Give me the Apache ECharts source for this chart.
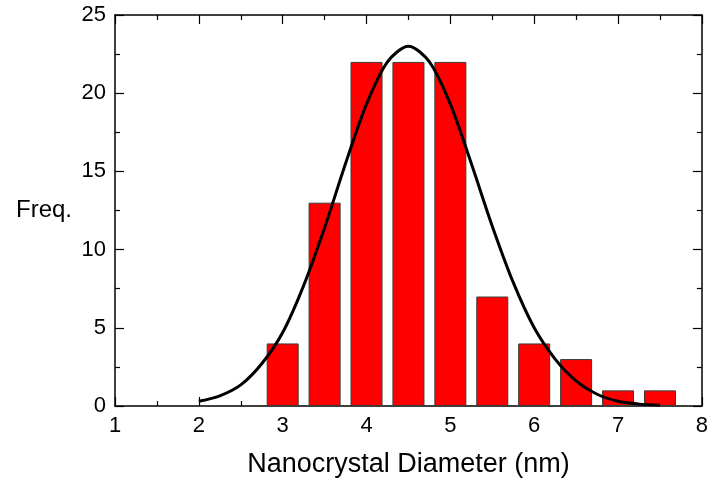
<!DOCTYPE html>
<html>
<head>
<meta charset="utf-8">
<script src="https://cdn.jsdelivr.net/npm/echarts@6/dist/echarts.min.js"></script>
<style>
html,body{margin:0;padding:0;background:#fff;}
#chart{width:711px;height:484px;}
</style>
</head>
<body>
<div id="chart"></div>
<script>
// Histogram bins (nm) and frequencies
const binCenters = [3, 3.5, 4, 4.5, 5, 5.5, 6, 6.5, 7, 7.5];
const frequencies = [4, 13, 22, 22, 22, 7, 4, 3, 1, 1];

// Fitted curve
const fitX = [2.0, 2.25, 2.5, 2.75, 3.0, 3.25, 3.5, 3.75, 4.0, 4.25, 4.5, 4.75, 5.0, 5.25, 5.5, 5.75, 6.0, 6.25, 6.5, 6.75, 7.0, 7.25, 7.5];
const fitY = [0.3, 0.65, 1.35, 2.7, 4.7, 7.7, 11.4, 15.5, 19.3, 22.0, 23.0, 22.0, 19.3, 15.5, 11.5, 7.9, 5.0, 3.0, 1.6, 0.75, 0.3, 0.12, 0.05];

// Axis ticks
const xTicks = [1, 2, 3, 4, 5, 6, 7, 8];
const yTicks = [0, 5, 10, 15, 20, 25];

const FONT = 'Liberation Sans, Arial, sans-serif';
const chart = echarts.init(document.getElementById('chart'));

const axisLine = {show: true, onZero: false, lineStyle: {color: '#000', width: 1.5}};
const tickCommon = {show: true, inside: true, length: 9, lineStyle: {color: '#000', width: 1.2}};
const minorCommon = {show: true, splitNumber: 2, length: 5, lineStyle: {color: '#000', width: 1.2}};

chart.setOption({
  animation: false,
  grid: {left: 115, right: 5, top: 15, bottom: 78, containLabel: false},
  xAxis: [{
    type: 'value', min: xTicks[0], max: xTicks[xTicks.length - 1], interval: 1,
    axisLine: axisLine,
    axisTick: tickCommon,
    minorTick: minorCommon,
    splitLine: {show: false},
    axisLabel: {color: '#000', fontSize: 22, fontFamily: FONT, margin: 9},
    name: 'Nanocrystal Diameter (nm)', nameLocation: 'middle', nameGap: 45,
    nameTextStyle: {color: '#000', fontSize: 27, fontFamily: FONT}
  }, {
    type: 'value', position: 'top', min: xTicks[0], max: xTicks[xTicks.length - 1], interval: 1,
    axisLine: axisLine, axisTick: tickCommon, minorTick: minorCommon,
    splitLine: {show: false}, axisLabel: {show: false}
  }],
  yAxis: [{
    type: 'value', min: yTicks[0], max: yTicks[yTicks.length - 1], interval: 5,
    axisLine: axisLine,
    axisTick: tickCommon,
    minorTick: minorCommon,
    splitLine: {show: false},
    axisLabel: {color: '#000', fontSize: 22, fontFamily: FONT, margin: 9},
    name: 'Freq.', nameLocation: 'middle', nameRotate: 0, nameGap: 43,
    nameTextStyle: {color: '#000', fontSize: 24, fontFamily: FONT, align: 'right', padding: [0, 0, 10, 0]}
  }, {
    type: 'value', position: 'right', min: yTicks[0], max: yTicks[yTicks.length - 1], interval: 5,
    axisLine: axisLine, axisTick: tickCommon, minorTick: minorCommon,
    splitLine: {show: false}, axisLabel: {show: false}
  }],
  series: [{
    type: 'bar',
    data: binCenters.map((x, i) => [x, frequencies[i]]),
    barWidth: 32,
    itemStyle: {color: '#ff0000', borderColor: '#3a3a3a', borderWidth: 1},
    z: 2
  }, {
    type: 'line',
    data: fitX.map((x, i) => [x, fitY[i]]),
    smooth: 0.3,
    symbol: 'none',
    lineStyle: {color: '#000', width: 3},
    z: 3
  }]
});
</script>
</body>
</html>
